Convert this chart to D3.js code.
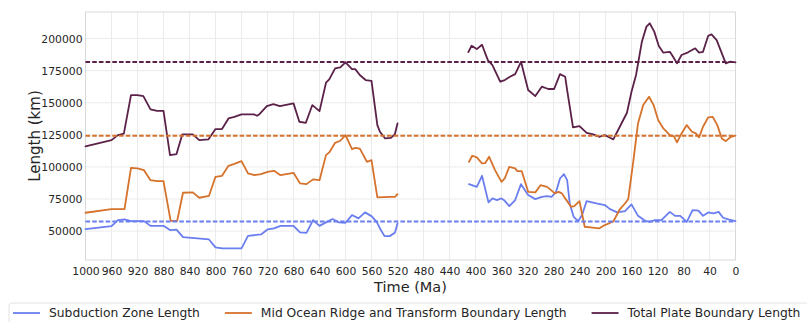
<!DOCTYPE html>
<html>
<head>
<meta charset="utf-8">
<script src="https://cdn.jsdelivr.net/npm/d3@7"></script>
<style>
  html, body { margin: 0; padding: 0; background: #ffffff; }
  svg { display: block; font-family: "DejaVu Sans", sans-serif; }
</style>
</head>
<body>
<svg id="chart" width="807" height="322"></svg>
<script>
// Plate boundary lengths through time, [age (Ma), length (km)]; null marks the data gap.
const subduction = [
  [1000, 51600], [960, 53900], [950, 58600], [940, 59100], [930, 57800], [910, 57800],
  [900, 54100], [880, 54100], [870, 50800], [860, 51200], [850, 45300], [810, 43500],
  [800, 37300], [790, 36500], [760, 36500], [750, 46300], [730, 47400], [720, 51300],
  [710, 52100], [700, 54100], [680, 54100], [670, 49000], [660, 48700], [650, 58600],
  [640, 54100], [630, 56800], [620, 59400], [610, 56800], [600, 56500], [590, 62500],
  [580, 59900], [570, 64600], [560, 61700], [552, 57200], [547, 52100], [540, 46100],
  [532, 46100], [524, 48700], [520, 56000],
  [465, null],
  [410, 86600], [398, 84500], [390, 93100], [380, 72400], [374, 75500], [367, 74200],
  [360, 75500], [355, 73600], [348, 69500], [339, 74200], [330, 86600], [319, 78100],
  [308, 74900], [298, 76700], [290, 77200], [283, 76700], [276, 80600], [270, 91000],
  [264, 94400], [259, 89700], [255, 71600], [249, 61100], [242, 57800], [236, 62500],
  [229, 73400], [214, 71600], [201, 70300], [193, 67100], [182, 64600], [170, 65600],
  [160, 70800], [150, 61900], [139, 58000], [132, 57200], [124, 58600], [114, 58600],
  [101, 65000], [93, 61900], [85, 61900], [75, 57200], [66, 66400], [57, 66000],
  [50, 61900], [42, 64600], [34, 63800], [26, 65000], [19, 60400], [11, 59100], [0, 57800]
];

const ridgeTransform = [
  [1000, 64300], [960, 67100], [940, 67100], [930, 99300], [920, 98900], [910, 97500],
  [900, 89700], [890, 89000], [880, 89000], [869, 58000], [859, 58000], [850, 79900],
  [835, 80200], [825, 76000], [810, 77500], [800, 92300], [790, 93100], [780, 100900],
  [772, 102200], [760, 104500], [750, 95000], [740, 93600], [730, 94400], [720, 96200],
  [710, 97000], [700, 93600], [680, 95400], [670, 87200], [660, 86600], [650, 90300],
  [640, 89700], [630, 109200], [625, 111300], [616, 118800], [608, 120400], [600, 124800],
  [590, 113900], [585, 114900], [578, 114300], [567, 104000], [560, 105300], [551, 76300],
  [532, 76700], [524, 76700], [520, 78800],
  [465, null],
  [410, 104000], [405, 108700], [398, 107400], [390, 102800], [385, 103000], [379, 107900],
  [370, 97500], [360, 88400], [355, 91000], [348, 100100], [339, 98900], [336, 96800],
  [329, 96800], [319, 80600], [308, 80200], [300, 85800], [290, 84500], [285, 82500],
  [278, 79400], [272, 80600], [267, 79400], [262, 75500], [253, 68900], [248, 69400],
  [240, 73400], [232, 53400], [223, 52900], [210, 52100], [201, 54700], [188, 57500],
  [178, 67000], [170, 71500], [165, 75000], [157, 105300], [150, 133900], [142, 148200],
  [133, 154700], [126, 148200], [119, 136500], [111, 130000], [101, 124800], [95, 124000],
  [90, 119100], [83, 126100], [75, 132600], [67, 127400], [61, 126100], [56, 123000],
  [50, 131300], [42, 138600], [35, 139000], [28, 132600], [21, 122200], [15, 120100],
  [7, 123500], [0, 124300]
];

const totalBoundary = [
  [1000, 116000], [960, 120900], [950, 124800], [941, 126000], [930, 156000], [920, 156000],
  [911, 155200], [900, 144800], [890, 143700], [880, 143700], [870, 109200], [860, 110000],
  [851, 125400], [835, 125400], [825, 120900], [811, 121400], [800, 129500], [790, 129500],
  [780, 137800], [771, 139000], [760, 141000], [741, 141000], [736, 139900], [732, 141300],
  [721, 147400], [711, 149000], [701, 147400], [680, 149500], [671, 135200], [661, 134400],
  [651, 148200], [640, 143500], [630, 165600], [625, 168200], [616, 176800], [608, 177600],
  [600, 181500], [590, 176200], [585, 176200], [578, 171600], [569, 167700], [560, 167100],
  [551, 132600], [547, 127400], [539, 122200], [530, 122700], [524, 125600], [520, 133900],
  [465, null],
  [411, 189500], [406, 194400], [398, 191800], [390, 195200], [381, 183200], [374, 179400],
  [362, 166400], [355, 167700], [347, 170200], [339, 172300], [330, 181900], [319, 159900],
  [308, 155200], [298, 162500], [288, 160700], [279, 160700], [270, 172300], [262, 170200],
  [259, 159900], [250, 130800], [240, 131800], [229, 126600], [219, 125400], [210, 123500],
  [201, 124800], [193, 122700], [188, 121500], [178, 131300], [167, 142200], [160, 158600],
  [153, 171600], [144, 197600], [137, 209300], [132, 211900], [125, 205400], [118, 194200],
  [111, 189000], [101, 189700], [96, 185800], [90, 180700], [83, 187200], [73, 189300],
  [62, 192400], [56, 189000], [50, 189700], [42, 202200], [37, 203300], [29, 198800],
  [21, 188500], [15, 180700], [8, 182000], [0, 181500]
];

// Long-term mean of each series (dashed reference lines)
const meanSubduction = 57500;
const meanRidgeTransform = 124300;
const meanTotal = 181700;

const xTicks = d3.range(1000, -1, -40);
const yTicks = [50000, 75000, 100000, 125000, 150000, 175000, 200000];

const seriesNames = [
  "Subduction Zone Length",
  "Mid Ocean Ridge and Transform Boundary Length",
  "Total Plate Boundary Length"
];
const seriesColors = ["#6a7ef0", "#d5722b", "#5b2149"];

const svg = d3.select("#chart");
const plot = { left: 85.5, right: 735.5, top: 12, bottom: 260 };

const x = d3.scaleLinear().domain([1000, 0]).range([plot.left, plot.right]);
const y = d3.scaleLinear().domain([27500, 220700]).range([plot.bottom, plot.top]);

svg.append("rect").attr("width", 807).attr("height", 322).attr("fill", "#ffffff");

// grid
const grid = svg.append("g");
grid.selectAll("line.vx").data(xTicks).join("line")
  .attr("x1", d => x(d)).attr("x2", d => x(d))
  .attr("y1", plot.top).attr("y2", plot.bottom)
  .attr("stroke", "#ebebeb").attr("stroke-width", 1);
grid.selectAll("line.hy").data(yTicks).join("line")
  .attr("x1", plot.left).attr("x2", plot.right)
  .attr("y1", d => y(d)).attr("y2", d => y(d))
  .attr("stroke", "#ebebeb").attr("stroke-width", 1);

// axes (labels only, no tick marks)
const xAxis = svg.append("g")
  .attr("transform", `translate(0,${plot.bottom})`)
  .call(d3.axisBottom(x).tickValues(xTicks).tickFormat(d3.format("d")).tickSize(0).tickPadding(7));
const yAxis = svg.append("g")
  .attr("transform", `translate(${plot.left},0)`)
  .call(d3.axisLeft(y).tickValues(yTicks).tickFormat(d3.format("d")).tickSize(0).tickPadding(3));
[xAxis, yAxis].forEach(a => {
  a.select(".domain").remove();
  a.selectAll("text").attr("fill", "#262626").style("font-size", "10.8px")
    .style("font-family", "DejaVu Sans, sans-serif");
});

// frame
svg.append("rect")
  .attr("x", plot.left).attr("y", plot.top)
  .attr("width", plot.right - plot.left).attr("height", plot.bottom - plot.top)
  .attr("fill", "none").attr("stroke", "#d9d9d9").attr("stroke-width", 1);

// series
const line = d3.line()
  .defined(d => d[1] !== null)
  .x(d => x(d[0]))
  .y(d => y(d[1]));

[subduction, ridgeTransform, totalBoundary].forEach((data, i) => {
  svg.append("path")
    .datum(data)
    .attr("d", line)
    .attr("fill", "none")
    .attr("stroke", seriesColors[i])
    .attr("stroke-width", 1.8)
    .attr("stroke-linejoin", "round")
    .attr("stroke-linecap", "round");
});

// mean lines
[meanSubduction, meanRidgeTransform, meanTotal].forEach((m, i) => {
  svg.append("line")
    .attr("x1", plot.left).attr("x2", plot.right)
    .attr("y1", y(m)).attr("y2", y(m))
    .attr("stroke", seriesColors[i])
    .attr("stroke-width", 1.9)
    .attr("stroke-dasharray", "4.6,2.1");
});

// axis titles
svg.append("text")
  .attr("x", (plot.left + plot.right) / 2).attr("y", 291.5)
  .attr("text-anchor", "middle")
  .attr("fill", "#262626").style("font-size", "14.5px")
  .text("Time (Ma)");
svg.append("text")
  .attr("transform", `translate(40,${(plot.top + plot.bottom) / 2}) rotate(-90)`)
  .attr("text-anchor", "middle")
  .attr("fill", "#262626").style("font-size", "15px")
  .text("Length (km)");

// legend
const legend = svg.append("g");
const legendFrame = legend.append("rect")
  .attr("x", 9).attr("y", 303).attr("rx", 3)
  .attr("height", 40)
  .attr("fill", "#ffffff").attr("fill-opacity", 0.8)
  .attr("stroke", "#e3e3e3").attr("stroke-width", 1);
let cursor = 13;
seriesNames.forEach((name, i) => {
  legend.append("line")
    .attr("x1", cursor).attr("x2", cursor + 27)
    .attr("y1", 313).attr("y2", 313)
    .attr("stroke", seriesColors[i]).attr("stroke-width", 1.8);
  const t = legend.append("text")
    .attr("x", cursor + 36).attr("y", 317.4)
    .attr("fill", "#262626").style("font-size", "12.3px")
    .text(name);
  cursor += 36 + t.node().getComputedTextLength() + 25;
});
legendFrame.attr("width", cursor - 25 + 8 - 9);
</script>
</body>
</html>
